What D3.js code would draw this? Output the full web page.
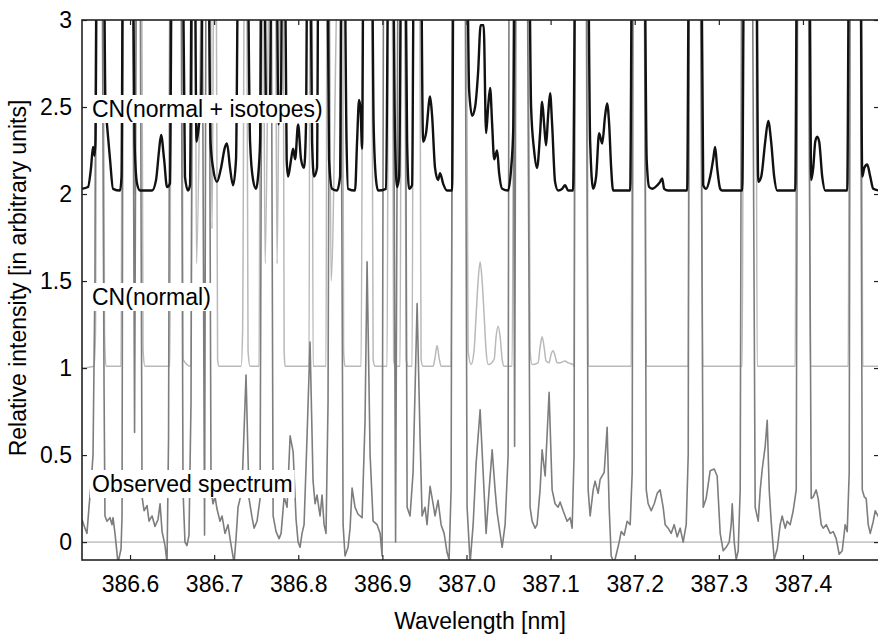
<!DOCTYPE html>
<html>
<head>
<meta charset="utf-8">
<script src="https://cdn.jsdelivr.net/npm/d3@7"></script>
<style>
  body { margin: 0; background: #fff; }
  svg { display: block; font-family: "Liberation Sans", Arial, sans-serif; }
  .tick text { font-size: 23px; fill: #000; }
</style>
</head>
<body>
<svg id="chart" width="878" height="639"></svg>
<script>
// tick values
var xTicks = [386.6, 386.7, 386.8, 386.9, 387.0, 387.1, 387.2, 387.3, 387.4];
var yTicks = [0, 0.5, 1, 1.5, 2, 2.5, 3];

// CN(normal + isotopes), offset +2
var isoWl = [386.5429,386.5500,386.5536,386.5560,386.5578,386.5589,386.5607,386.5685,386.5708,386.5726,386.5762,386.5798,386.5881,386.5899,386.5917,386.6030,386.6054,386.6083,386.6119,386.6262,386.6309,386.6345,386.6369,386.6405,386.6440,386.6475,386.6499,386.6624,386.6653,386.6689,386.6713,386.6737,386.6767,386.6790,386.6820,386.6844,386.6868,386.6927,386.6957,386.6987,386.7034,386.7082,386.7129,386.7153,386.7189,386.7225,386.7260,386.7290,386.7391,386.7427,386.7463,386.7498,386.7522,386.7546,386.7564,386.7594,386.7617,386.7641,386.7665,386.7683,386.7736,386.7766,386.7796,386.7808,386.7838,386.7862,386.7879,386.7915,386.7939,386.7963,386.7998,386.8033,386.8069,386.8092,386.8110,386.8140,386.8164,386.8188,386.8223,386.8241,386.8342,386.8366,386.8402,386.8461,386.8497,386.8515,386.8545,386.8574,386.8592,386.8675,386.8699,386.8723,386.8741,386.8759,386.8777,386.8872,386.8896,386.8925,386.8949,386.9044,386.9074,386.9122,386.9151,386.9175,386.9199,386.9228,386.9270,386.9294,386.9317,386.9353,386.9377,386.9454,386.9484,386.9519,386.9567,386.9591,386.9626,386.9662,386.9686,386.9722,386.9769,386.9829,386.9847,387.0001,387.0031,387.0067,387.0102,387.0138,387.0168,387.0204,387.0233,387.0257,387.0281,387.0305,387.0329,387.0364,387.0388,387.0424,387.0495,387.0531,387.0555,387.0578,387.0739,387.0768,387.0804,387.0839,387.0875,387.0899,387.0923,387.0946,387.0970,387.0994,387.1018,387.1053,387.1089,387.1137,387.1172,387.1208,387.1267,387.1297,387.1440,387.1470,387.1506,387.1541,387.1577,387.1613,387.1648,387.1672,387.1696,387.1720,387.1743,387.1946,387.1970,387.2113,387.2142,387.2172,387.2208,387.2267,387.2302,387.2326,387.2350,387.2397,387.2623,387.2647,387.2790,387.2814,387.2849,387.2897,387.2933,387.2956,387.2980,387.3016,387.3040,387.3278,387.3302,387.3444,387.3468,387.3504,387.3551,387.3587,387.3622,387.3658,387.3694,387.3908,387.3932,387.4074,387.4098,387.4122,387.4146,387.4169,387.4193,387.4229,387.4265,387.4526,387.4550,387.4681,387.4705,387.4729,387.4764,387.4800,387.4836,387.4904];
var isoI = [2.03,2.04,2.15,2.27,2.22,2.3,3.6,3.6,2.5,2.4,2.2,2.03,2.02,2.1,3.6,3.6,2.3,2.06,2.02,2.02,2.08,2.25,2.34,2.2,2.04,2.06,3.6,3.6,2.1,2.02,2.05,3.6,3.6,2.3,2.4,2.5,3.6,3.6,2.3,2.15,2.07,2.15,2.27,2.29,2.15,2.05,2.2,3.6,3.6,2.3,2.08,2.03,2.1,2.3,3.6,3.6,2.5,2.45,2.55,3.6,3.6,2.4,2.6,3.6,3.6,2.2,2.1,2.2,2.26,2.2,2.4,2.2,2.15,2.4,3.6,3.6,2.3,2.1,2.15,3.6,3.6,2.2,2.03,2.02,2.1,3.6,3.6,2.3,2.03,2.02,2.3,2.54,2.48,2.26,3.6,3.6,2.4,2.08,2.02,2.03,3.6,3.6,2.3,2.04,2.1,3.6,3.6,2.3,2.03,2.05,3.6,3.6,2.3,2.35,2.56,2.45,2.15,2.08,2.12,2.06,2.02,2.02,3.6,3.6,2.6,2.45,2.5,2.7,2.97,2.97,2.35,2.5,2.61,2.4,2.2,2.25,2.12,2.03,2.02,2.15,2.36,3.6,3.6,2.5,2.25,2.15,2.35,2.53,2.4,2.28,2.45,2.58,2.4,2.07,2.02,2.03,2.05,2.02,2.02,3.6,3.6,2.3,2.03,2.1,2.35,2.29,2.45,2.52,2.4,2.15,2.02,2.02,3.6,3.6,2.2,2.04,2.03,2.05,2.07,2.09,2.03,2.02,2.02,3.6,3.6,2.05,2.03,2.1,2.2,2.27,2.15,2.03,2.02,2.02,3.6,3.6,2.07,2.1,2.3,2.42,2.3,2.1,2.02,2.02,3.6,3.6,2.08,2.15,2.3,2.33,2.3,2.1,2.02,2.02,3.6,3.6,2.1,2.15,2.17,2.1,2.03,2.02];

// CN(normal), offset +1
var normWl = [386.5429,386.5572,386.5589,386.5607,386.5679,386.5697,386.5714,386.5893,386.5911,386.6036,386.6054,386.6071,386.6137,386.6155,386.6178,386.6475,386.6487,386.6618,386.6630,386.6725,386.6743,386.6773,386.6790,386.6868,386.6951,386.6975,386.6999,386.7023,386.7041,386.7058,386.7320,386.7338,386.7362,386.7386,386.7403,386.7427,386.7534,386.7552,386.7582,386.7606,386.7665,386.7725,386.7748,386.7790,386.7820,386.7832,386.7844,386.8128,386.8140,386.8164,386.8176,386.8330,386.8342,386.8366,386.8390,386.8485,386.8527,386.8539,386.8556,386.8747,386.8771,386.8872,386.8890,386.8914,386.9056,386.9074,386.9116,386.9134,386.9151,386.9210,386.9228,386.9264,386.9282,386.9305,386.9353,386.9371,386.9442,386.9460,386.9484,386.9603,386.9626,386.9650,386.9674,386.9698,386.9817,386.9841,386.9995,387.0019,387.0055,387.0090,387.0114,387.0138,387.0162,387.0186,387.0210,387.0233,387.0257,387.0329,387.0352,387.0376,387.0400,387.0424,387.0448,387.0543,387.0566,387.0733,387.0756,387.0780,387.0851,387.0875,387.0899,387.0923,387.0946,387.0982,387.1006,387.1030,387.1053,387.1077,387.1113,387.1172,387.1208,387.1267,387.1279,387.1291,387.1434,387.1446,387.1958,387.1976,387.2119,387.2137,387.2636,387.2653,387.2790,387.2808,387.3278,387.3296,387.3439,387.3456,387.3908,387.3926,387.4068,387.4086,387.4538,387.4556,387.4693,387.4711,387.4904];
var normI = [1.0,1.01,1.2,3.6,3.6,1.2,1.01,1.01,3.6,3.6,2.0,3.6,3.6,1.1,1.01,1.01,3.6,3.6,1.05,1.01,3.6,3.6,1.6,3.6,3.6,1.8,3.6,3.6,1.05,1.01,1.01,1.2,3.6,3.6,1.1,1.01,1.01,3.6,3.6,1.6,3.6,3.6,1.6,3.6,3.6,1.1,1.01,1.01,3.6,3.6,1.01,1.01,3.6,3.6,1.5,3.6,3.6,1.1,1.01,1.01,3.6,3.6,1.05,1.01,1.01,3.6,3.6,1.05,1.01,1.01,3.6,3.6,1.05,1.01,1.01,3.6,3.6,1.05,1.01,1.01,1.06,1.13,1.06,1.01,1.01,3.6,3.6,1.1,1.02,1.1,1.3,1.5,1.61,1.5,1.3,1.1,1.02,1.05,1.18,1.24,1.18,1.05,1.01,1.01,3.6,3.6,1.1,1.02,1.03,1.12,1.18,1.12,1.04,1.03,1.08,1.10,1.07,1.03,1.03,1.04,1.03,1.02,1.01,3.6,3.6,1.01,1.01,3.6,3.6,1.01,1.01,3.6,3.6,1.01,1.01,3.6,3.6,1.01,1.01,3.6,3.6,1.01,1.01,3.6,3.6,1.01,1.01];

// Observed spectrum
var obsWl = [386.5429,386.5464,386.5488,386.5512,386.5536,386.5560,386.5583,386.5595,386.5667,386.5691,386.5702,386.5726,386.5762,386.5786,386.5798,386.5821,386.5857,386.5893,386.5905,386.5917,386.6030,386.6054,386.6077,386.6119,386.6143,386.6167,386.6202,386.6226,386.6262,386.6297,386.6333,386.6357,386.6381,386.6416,386.6440,386.6458,386.6475,386.6606,386.6630,386.6653,386.6677,386.6701,386.6725,386.6743,386.6856,386.6886,386.6904,386.6939,386.6963,386.6987,386.7011,386.7034,386.7070,386.7094,386.7129,386.7165,386.7189,386.7213,386.7237,386.7260,386.7284,386.7308,386.7332,386.7379,386.7415,386.7451,386.7475,386.7510,386.7546,386.7570,386.7677,386.7701,386.7736,386.7772,386.7796,386.7832,386.7867,386.7903,386.7939,386.7974,386.7998,386.8021,386.8045,386.8069,386.8104,386.8140,386.8176,386.8200,386.8223,386.8259,386.8283,386.8307,386.8330,386.8354,386.8372,386.8503,386.8533,386.8556,386.8592,386.8616,386.8640,386.8675,386.8711,386.8759,386.8794,386.8818,386.8854,386.8890,386.8937,386.8973,386.8997,386.9015,386.9128,386.9157,386.9187,386.9270,386.9294,386.9329,386.9365,386.9413,386.9448,386.9472,386.9507,386.9531,386.9567,386.9603,386.9626,386.9662,386.9698,386.9734,386.9769,386.9793,386.9817,386.9835,386.9983,387.0007,387.0043,387.0079,387.0114,387.0162,387.0198,387.0233,387.0269,387.0305,387.0340,387.0364,387.0400,387.0424,387.0459,387.0495,387.0507,387.0555,387.0572,387.0590,387.0721,387.0756,387.0780,387.0816,387.0839,387.0875,387.0899,387.0935,387.0982,387.1018,387.1053,387.1089,387.1113,387.1149,387.1196,387.1232,387.1256,387.1279,387.1291,387.1422,387.1446,387.1470,387.1506,387.1529,387.1565,387.1589,387.1637,387.1672,387.1696,387.1720,387.1756,387.1791,387.1815,387.1839,387.1875,387.1910,387.1946,387.1970,387.1981,387.2113,387.2137,387.2160,387.2196,387.2232,387.2267,387.2302,387.2338,387.2362,387.2397,387.2433,387.2469,387.2505,387.2540,387.2576,387.2612,387.2636,387.2647,387.2778,387.2814,387.2849,387.2873,387.2897,387.2945,387.2980,387.3016,387.3052,387.3087,387.3123,387.3147,387.3159,387.3183,387.3206,387.3230,387.3254,387.3272,387.3397,387.3432,387.3468,387.3492,387.3516,387.3551,387.3575,387.3599,387.3622,387.3658,387.3694,387.3729,387.3753,387.3789,387.3813,387.3848,387.3884,387.3920,387.3938,387.4062,387.4098,387.4122,387.4157,387.4181,387.4217,387.4241,387.4276,387.4324,387.4360,387.4395,387.4431,387.4467,387.4502,387.4526,387.4550,387.4562,387.4681,387.4705,387.4729,387.4752,387.4776,387.4800,387.4836,387.4859,387.4904];
var obsI = [0.13,0.08,0.05,0.2,0.33,0.5,1.5,3.6,3.6,0.9,0.15,0.12,0.14,0.1,0.14,0.05,-0.12,-0.04,0.15,3.6,3.6,0.63,3.6,3.6,0.26,0.18,0.21,0.12,0.15,0.09,0.13,0.22,0.06,-0.02,-0.12,0.6,3.6,3.6,0.3,0,-0.02,0.04,0.8,3.6,3.6,0.04,3.6,3.6,0.3,0.22,0.26,0.19,0.12,0.15,0.05,0.1,0.02,-0.05,-0.12,0.02,0.2,0.25,0.32,0.96,0.25,0.14,0.08,0.12,0.25,3.6,3.6,0.15,0.06,0.02,0.05,0.26,0.2,0.61,0.52,0.13,0,-0.03,0.05,0.1,0.6,1.15,0.35,0.22,0.27,0.15,0.27,0.1,0.05,0.8,3.6,3.6,0.1,-0.08,-0.03,0.08,0.31,0.2,0.16,0.14,0.7,1.61,0.5,0.12,0.1,0.05,-0.08,3.6,3.6,0,3.6,3.6,0.2,0.15,0.4,1.37,0.6,0.15,0.2,0.1,0.32,0.22,0.15,0.24,0.1,0.05,-0.06,-0.1,0.3,3.6,3.6,0.2,-0.12,0.1,0.45,0.76,0.4,0.05,0.3,0.53,0.3,0.17,0.05,-0.03,0.1,0.5,3.6,3.6,0.55,3.6,3.6,0.2,0.12,0.08,0.1,0.3,0.53,0.38,0.86,0.3,0.22,0.2,0.23,0.18,0.12,0.14,0.08,0.5,3.6,3.6,0.3,0.15,0.3,0.35,0.28,0.36,0.4,0.66,0.2,-0.08,-0.12,-0.05,0,0.06,0.04,0.12,0.1,0.4,3.6,3.6,0.3,0.22,0.18,0.22,0.28,0.3,0.2,0.1,0.08,0.05,0.1,0.03,0.08,0,0.1,0.5,3.6,3.6,0.2,0.25,0.33,0.41,0.42,0.38,0.05,-0.05,-0.03,0,0.1,0.22,0,-0.1,-0.05,0.3,3.6,3.6,0.2,0.12,0.3,0.42,0.55,0.7,0.3,0.12,-0.1,-0.04,0.1,0.15,0.08,0.12,0.1,0.18,0.3,3.6,3.6,0.25,0.26,0.3,0.25,0.1,0.08,0.1,0.05,0.06,0.02,-0.07,-0.05,0.1,0.06,0.4,3.6,3.6,0.3,0.26,0.25,0.1,0.05,0.12,0.18,0.14];

var labels = [
  { text: "CN(normal + isotopes)", y: 117 },
  { text: "CN(normal)", y: 305 },
  { text: "Observed spectrum", y: 492 }
];

function drawChart() {
  var svg = d3.select("#chart");
  // right edge of the box sits just past the picture
  var left = 82, right = 879, top = 20, bottom = 560;

  var x = d3.scaleLinear().domain([386.5429, 387.4904]).range([left, right]);
  var y = d3.scaleLinear().domain([-0.103, 3]).range([bottom, top]);

  svg.append("defs").append("clipPath").attr("id", "plotclip")
    .append("rect")
    .attr("x", left).attr("y", top)
    .attr("width", right - left).attr("height", bottom - top);

  var plot = svg.append("g").attr("clip-path", "url(#plotclip)");

  // zero line of the observed spectrum
  plot.append("line")
    .attr("x1", left).attr("x2", right)
    .attr("y1", y(0)).attr("y2", y(0))
    .attr("stroke", "#a0a0a0").attr("stroke-width", 1);

  function pts(wl, val) {
    return wl.map(function(d, i) { return [d, val[i]]; });
  }
  var smooth = d3.line()
    .curve(d3.curveMonotoneX)
    .x(function(d) { return x(d[0]); })
    .y(function(d) { return y(d[1]); });
  var straight = d3.line()
    .x(function(d) { return x(d[0]); })
    .y(function(d) { return y(d[1]); });

  var series = [
    { data: pts(normWl, normI), color: "#b9b9b9", width: 1.5, line: smooth },
    { data: pts(obsWl, obsI), color: "#7d7d7d", width: 1.6, line: straight },
    { data: pts(isoWl, isoI), color: "#111111", width: 2.4, line: smooth }
  ];

  plot.selectAll("path.spec")
    .data(series)
    .enter().append("path")
    .attr("class", "spec")
    .attr("d", function(d) { return d.line(d.data); })
    .attr("fill", "none")
    .attr("stroke", function(d) { return d.color; })
    .attr("stroke-width", function(d) { return d.width; })
    .attr("stroke-linejoin", "round");

  // axes with inward ticks, matlab style box
  var fmt = d3.format(".1f");
  svg.append("g")
    .attr("transform", "translate(0," + bottom + ")")
    .call(d3.axisBottom(x).tickValues(xTicks).tickFormat(fmt)
      .tickSizeInner(-5).tickSizeOuter(0).tickPadding(16));
  svg.append("g")
    .attr("transform", "translate(0," + top + ")")
    .call(d3.axisTop(x).tickValues(xTicks).tickFormat("")
      .tickSizeInner(-5).tickSizeOuter(0));
  svg.append("g")
    .attr("transform", "translate(" + left + ",0)")
    .call(d3.axisLeft(y).tickValues(yTicks).tickFormat(d3.format("~g"))
      .tickSizeInner(-5).tickSizeOuter(0).tickPadding(10));
  svg.append("g")
    .attr("transform", "translate(" + right + ",0)")
    .call(d3.axisRight(y).tickValues(yTicks).tickFormat("")
      .tickSizeInner(-5).tickSizeOuter(0));

  svg.selectAll(".domain").remove();
  svg.selectAll(".tick line").attr("stroke", "#222").attr("stroke-width", 1.2);

  svg.append("rect")
    .attr("x", left).attr("y", top)
    .attr("width", right - left).attr("height", bottom - top)
    .attr("fill", "none").attr("stroke", "#222").attr("stroke-width", 1.6);

  // series labels on white boxes
  labels.forEach(function(l) {
    var g = svg.append("g");
    var t = g.append("text")
      .attr("x", 92).attr("y", l.y)
      .attr("font-size", 23)
      .attr("fill", "#000")
      .text(l.text);
    var bb = t.node().getBBox();
    g.insert("rect", "text")
      .attr("x", bb.x - 2).attr("y", bb.y - 1)
      .attr("width", bb.width + 4).attr("height", bb.height + 2)
      .attr("fill", "#fff");
  });

  svg.append("text")
    .attr("x", 480).attr("y", 629)
    .attr("text-anchor", "middle")
    .attr("font-size", 23)
    .text("Wavelength [nm]");

  svg.append("text")
    .attr("transform", "translate(26,278) rotate(-90)")
    .attr("text-anchor", "middle")
    .attr("font-size", 23)
    .text("Relative intensity [in arbitrary units]");
}

drawChart();
</script>
</body>
</html>
